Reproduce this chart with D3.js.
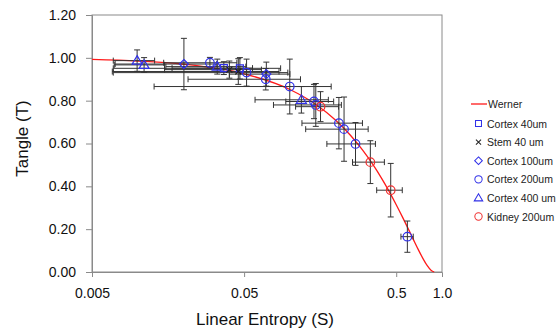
<!DOCTYPE html>
<html>
<head>
<meta charset="utf-8">
<script src="https://cdn.jsdelivr.net/npm/d3@7"></script>
<style>
  body { margin: 0; background: #fff; }
  svg { display: block; font-family: "Liberation Sans", Arial, sans-serif; }
</style>
</head>
<body>
<svg id="chart" width="557" height="331"></svg>
<script>
// Tangle vs linear entropy, Werner curve + measured samples

// Werner curve
const wernerS = [0.005, 0.01, 0.02, 0.05, 0.1, 0.15, 0.2, 0.25, 0.3, 0.35, 0.4, 0.45, 0.5, 0.55, 0.6, 0.65, 0.7, 0.75, 0.8, 0.85, 0.889];
const wernerT = [0.9925, 0.985, 0.9701, 0.9255, 0.852, 0.7796, 0.7084, 0.6385, 0.57, 0.5032, 0.4381, 0.3751, 0.3143, 0.2563, 0.2013, 0.1501, 0.1034, 0.0625, 0.0292, 0.0066, 0];

// samples: [S, T, S error, T error]
const cortex40 = [[0.0368, 0.952, 0.02, 0.03], [0.0469, 0.951, 0.040, 0.05]];
const stem40 = [[0.0400, 0.945, 0.025, 0.04], [0.0458, 0.936, 0.039, 0.06]];
const cortex100 = [[0.0201, 0.971, 0.013, 0.12], [0.070, 0.924, 0.03, 0.056]];
const cortex200 = [
  [0.0298, 0.977, 0.015, 0.025], [0.0519, 0.931, 0.045, 0.063], [0.0694, 0.900, 0.048, 0.05],
  [0.0998, 0.866, 0.087, 0.128], [0.144, 0.796, 0.05, 0.08], [0.148, 0.780, 0.07, 0.10],
  [0.210, 0.695, 0.09, 0.12], [0.227, 0.667, 0.10, 0.15], [0.270, 0.598, 0.095, 0.10],
  [0.592, 0.165, 0.055, 0.073]
];
const cortex400 = [[0.0099, 0.987, 0.003, 0.05], [0.0110, 0.967, 0.004, 0.034], [0.0333, 0.959, 0.018, 0.035], [0.119, 0.804, 0.06, 0.062]];
const kidney200 = [[0.159, 0.772, 0.05, 0.07], [0.338, 0.513, 0.08, 0.10], [0.460, 0.382, 0.088, 0.125]];

const xTicks = [0.005, 0.05, 0.5, 1.0];
const xTickLabels = ["0.005", "0.05", "0.5", "1.0"];
const yTicks = [0, 0.2, 0.4, 0.6, 0.8, 1.0, 1.2];

const BLUE = "#3030e8", RED = "#f03030";
const series = [
  { name: "Cortex 40um", data: cortex40, shape: "square", color: BLUE },
  { name: "Stem 40 um", data: stem40, shape: "cross", color: "#222" },
  { name: "Cortex 100um", data: cortex100, shape: "diamond", color: BLUE },
  { name: "Cortex 200um", data: cortex200, shape: "circle", color: BLUE },
  { name: "Cortex 400 um", data: cortex400, shape: "triangle", color: BLUE },
  { name: "Kidney 200um", data: kidney200, shape: "circle", color: RED }
];

const svg = d3.select("#chart");
const L = 92, R = 442, T = 15, B = 272;

const x = d3.scaleLog().domain([0.005, 1.0]).range([L, R]);
const y = d3.scaleLinear().domain([0, 1.2]).range([B, T]);

const AX = "#8a8a8a";

// frame
svg.append("rect")
  .attr("x", L).attr("y", T)
  .attr("width", R - L).attr("height", B - T)
  .attr("fill", "none").attr("stroke", AX).attr("stroke-width", 1);

// y axis
const yAxis = svg.append("g")
  .attr("transform", `translate(${L},0)`)
  .call(d3.axisLeft(y).tickValues(yTicks).tickFormat(d3.format(".2f")).tickSize(6).tickPadding(10));
yAxis.select(".domain").attr("stroke", AX);
yAxis.selectAll(".tick line").attr("stroke", AX);
yAxis.selectAll("text").attr("font-size", 14).attr("fill", "#111");

// x axis
const xAxis = svg.append("g")
  .attr("transform", `translate(0,${B})`)
  .call(d3.axisBottom(x).tickValues(xTicks).tickFormat((d, i) => xTickLabels[i]).tickSize(5).tickPadding(11));
xAxis.select(".domain").attr("stroke", AX);
xAxis.selectAll(".tick line").attr("stroke", AX).filter(d => d === 1.0).remove();
xAxis.selectAll("text").attr("font-size", 14).attr("fill", "#111");

// axis titles
svg.append("text")
  .attr("x", (L + R) / 2 - 2).attr("y", 325)
  .attr("text-anchor", "middle").attr("font-size", 17).attr("fill", "#111")
  .text("Linear Entropy (S)");
svg.append("text")
  .attr("transform", `translate(28,${(T + B) / 2 - 5}) rotate(-90)`)
  .attr("text-anchor", "middle").attr("font-size", 17).attr("fill", "#111")
  .text("Tangle (T)");

// Werner curve
const line = d3.line().x(d => x(d[0])).y(d => y(d[1])).curve(d3.curveMonotoneX);
svg.append("path")
  .datum(wernerS.map((s, i) => [s, wernerT[i]]))
  .attr("d", line)
  .attr("fill", "none").attr("stroke", "#ff1a1a").attr("stroke-width", 1.3);

// error bars
const eb = svg.append("g").attr("stroke", "#333").attr("stroke-width", 1).attr("fill", "none");
const cap = 3;
series.forEach(s => {
  s.data.forEach(([sv, tv, se, te]) => {
    const cx = x(sv), cy = y(tv);
    const x0 = x(Math.max(sv - se, 0.005)), x1 = x(Math.min(sv + se, 1.0));
    const y0 = y(tv - te), y1 = y(tv + te);
    eb.append("line").attr("x1", x0).attr("x2", x1).attr("y1", cy).attr("y2", cy);
    eb.append("line").attr("x1", x0).attr("x2", x0).attr("y1", cy - cap).attr("y2", cy + cap);
    eb.append("line").attr("x1", x1).attr("x2", x1).attr("y1", cy - cap).attr("y2", cy + cap);
    eb.append("line").attr("x1", cx).attr("x2", cx).attr("y1", y0).attr("y2", y1);
    eb.append("line").attr("x1", cx - cap).attr("x2", cx + cap).attr("y1", y0).attr("y2", y0);
    eb.append("line").attr("x1", cx - cap).attr("x2", cx + cap).attr("y1", y1).attr("y2", y1);
  });
});

// markers
function marker(g, shape, color, cx, cy) {
  const m = g.append("path").attr("fill", "none").attr("stroke", color).attr("stroke-width", 1.2)
    .attr("transform", `translate(${cx},${cy})`);
  if (shape === "square") m.attr("d", "M-3.5,-3.5H3.5V3.5H-3.5Z");
  else if (shape === "cross") m.attr("d", "M-3,-3L3,3M-3,3L3,-3");
  else if (shape === "diamond") m.attr("d", "M0,-4.5L4.5,0L0,4.5L-4.5,0Z");
  else if (shape === "triangle") m.attr("d", "M0,-5L5,3.5H-5Z");
  else m.attr("d", "M4.3,0A4.3,4.3 0 1,1 -4.3,0A4.3,4.3 0 1,1 4.3,0Z");
  return m;
}

const mk = svg.append("g");
series.forEach(s => {
  s.data.forEach(d => marker(mk, s.shape, s.color, x(d[0]), y(d[1])));
});

// legend
const lg = svg.append("g").attr("font-size", 10.5).attr("fill", "#222");
lg.append("line").attr("x1", 471).attr("x2", 487).attr("y1", 104).attr("y2", 104)
  .attr("stroke", "#ff1a1a").attr("stroke-width", 1.3);
lg.append("text").attr("x", 488).attr("y", 108).text("Werner");
series.forEach((s, i) => {
  const ly = 123.5 + i * 18.6;
  const m = marker(lg, s.shape, s.color, 478.5, ly);
  m.attr("transform", `translate(478.5,${ly}) scale(0.85)`);
  lg.append("text").attr("x", 487).attr("y", ly + 4).text(s.name);
});
</script>
</body>
</html>
